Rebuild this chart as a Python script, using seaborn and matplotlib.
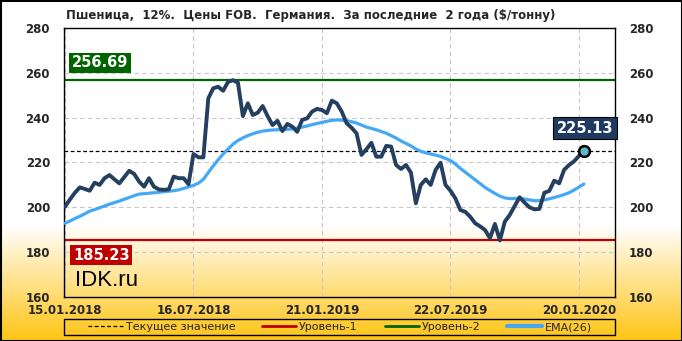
import numpy as np
import pandas as pd
import matplotlib
matplotlib.use("Agg")
import matplotlib.pyplot as plt
from matplotlib.lines import Line2D
from matplotlib.patches import Rectangle
import seaborn as sns

# ---------------- data ----------------
title = "Пшеница,  12%.  Цены FOB.  Германия.  За последние  2 года ($/тонну)"
tick_labels = ["15.01.2018", "16.07.2018", "21.01.2019", "22.07.2019", "20.01.2020"]
tick_idx = [0, 26, 52, 78, 104]
price = [200.3, 203.5, 206.5, 208.9, 208.2, 207.4, 211.0, 210.0, 213.0, 214.4,
         212.5, 210.7, 213.5, 216.3, 214.9, 211.5, 209.2, 213.0, 209.2, 208.0,
         207.8, 208.0, 213.7, 213.0, 213.0, 210.3, 223.8, 222.3, 222.3, 248.6,
         253.1, 253.8, 252.0, 256.0, 256.69, 255.6, 240.7, 246.4, 241.2, 242.2,
         245.2, 240.7, 236.7, 238.6, 234.0, 237.2, 236.0, 233.7, 239.0, 239.7,
         242.7, 243.9, 243.4, 242.0, 247.6, 246.4, 242.7, 237.5, 235.5, 233.0,
         223.4, 225.9, 228.8, 222.6, 222.6, 227.4, 227.1, 218.9, 217.1, 218.9,
         215.5, 201.8, 210.0, 212.5, 210.0, 216.7, 219.9, 210.0, 207.4, 204.0,
         198.8, 198.0, 195.8, 192.9, 191.5, 189.9, 186.2, 192.6, 185.23, 193.6,
         196.6, 200.6, 204.5, 202.1, 200.0, 199.1, 199.3, 206.5, 207.3, 211.9,
         210.7, 216.7, 218.9, 220.5, 222.9, 225.13]
ema26 = [192.9, 193.9, 195.0, 196.0, 197.1, 198.3, 199.0, 199.8, 200.6, 201.4,
         202.1, 202.8, 203.6, 204.4, 205.2, 205.9, 206.1, 206.3, 206.5, 206.7,
         207.0, 207.2, 207.4, 207.8, 208.4, 209.1, 209.8, 210.8, 212.5, 215.5,
         218.5, 221.2, 223.8, 226.0, 228.2, 229.8, 231.0, 232.0, 232.8, 233.5,
         234.0, 234.3, 234.5, 234.6, 234.7, 234.8, 235.0, 235.4, 235.8, 236.3,
         236.9, 237.4, 237.9, 238.4, 238.8, 239.0, 238.9, 238.6, 238.2, 237.6,
         236.7, 235.8, 235.2, 234.6, 233.8, 233.1, 232.0, 230.9, 229.6, 228.5,
         227.4, 226.0, 225.0, 224.3, 223.8, 223.3, 222.7, 221.8, 220.9, 219.3,
         217.4, 215.7, 214.0, 212.3, 210.6, 208.9, 207.5, 206.2, 205.0, 204.2,
         203.9, 203.9, 204.0, 203.7, 203.3, 202.9, 203.0, 203.3, 203.8, 204.4,
         205.0, 205.7, 206.5, 207.7, 209.0, 210.4]
level1 = 185.23
level2 = 256.69
current = 225.13
legend_labels = ["Текущее значение", "Уровень-1", "Уровень-2", "EMA(26)"]

# ---------------- styling ----------------
sns.set_theme(style="white")
plt.rcParams["font.family"] = ["DejaVu Sans"]

W, H = 682, 341
fig = plt.figure(figsize=(W / 100, H / 100), dpi=100)
fig.patch.set_facecolor("white")

# background gradient (white -> gold at bottom)
bg = fig.add_axes([0, 0, 1, 1], zorder=-10)
bg.axis("off")
rows = np.linspace(1, 0, H)
grad = np.ones((H, 1, 3))
gold = np.array([255, 196, 20]) / 255.0
start = 116 / H
for r, f in enumerate(rows):
    if f < start:
        t = (start - f) / start
        grad[r, 0, :] = (1 - t) * np.ones(3) + t * gold
bg.imshow(grad, aspect="auto", extent=[0, 1, 0, 1])

ax = fig.add_axes([64 / W, 1 - 297 / H, 551 / W, 269 / H], zorder=1)
ax.patch.set_alpha(0)

df = pd.DataFrame({"idx": np.arange(len(price)), "price": price, "ema": ema26})

# grid
for t in tick_idx:
    ax.axvline(t, color="#c8c8c8", lw=0.8, ls=(0, (4, 3)), zorder=0)
for yv in [180, 200, 220, 240, 260]:
    ax.axhline(yv, color="#c8c8c8", lw=0.8, ls=(0, (4, 3)), zorder=0)

ax.axhline(current, color="black", lw=0.9, ls=(0, (3, 2)), zorder=2)
ax.axhline(level1, color="#c00000", lw=1.6, zorder=2)
ax.axhline(level2, color="#006400", lw=1.6, zorder=2)

sns.lineplot(data=df, x="idx", y="ema", ax=ax, color="#45a8f5", lw=2.3, zorder=3)
sns.lineplot(data=df, x="idx", y="price", ax=ax, color="#243f60", lw=2.8, zorder=4)
ax.scatter([df["idx"].iloc[-1]], [price[-1]], s=60, color="#5fb8c9",
           edgecolor="black", linewidth=1.8, zorder=5)

ax.set_xlim(-0.2, 111.3)
ax.set_ylim(160, 280)
ax.set_xlabel("")
ax.set_ylabel("")
ax.set_xticks(tick_idx)
ax.set_xticklabels(tick_labels, fontsize=8.5, fontweight="bold")
ax.set_yticks(range(160, 281, 20))
ax.set_yticklabels([str(v) for v in range(160, 281, 20)], fontsize=8.5, fontweight="bold")
ax.tick_params(axis="y", left=False, right=False, length=0, labelleft=True,
               labelright=True, pad=10)
ax.tick_params(axis="x", bottom=False, length=0, pad=5)
for s in ax.spines.values():
    s.set_visible(True)
    s.set_color("black")
    s.set_linewidth(1.0)

# value boxes
ax.text(0.014, 0.87, "256.69", transform=ax.transAxes, ha="left", va="center",
        color="white", fontsize=10.5, fontweight="bold", zorder=6,
        bbox=dict(boxstyle="square,pad=0.2", fc="#006400", ec="none"))
ax.text(0.016, 0.156, "185.23", transform=ax.transAxes, ha="left", va="center",
        color="white", fontsize=10.5, fontweight="bold", zorder=6,
        bbox=dict(boxstyle="square,pad=0.2", fc="#c00000", ec="none"))
ax.text(0.9456, 0.628, "225.13", transform=ax.transAxes, ha="center", va="center",
        color="white", fontsize=10.5, fontweight="bold", zorder=6,
        bbox=dict(boxstyle="square,pad=0.25", fc="#1f3a5f", ec="black", lw=0.8))
ax.text(0.02, 0.06, "IDK.ru", transform=ax.transAxes, ha="left", va="center",
        color="black", fontsize=16, family="Liberation Sans", zorder=6)

fig.text(66 / W, 1 - 15 / H, title, ha="left", va="center", fontsize=8.5,
         fontweight="bold")

handles = [
    Line2D([], [], color="black", lw=0.9, ls=(0, (3, 2))),
    Line2D([], [], color="#c00000", lw=2),
    Line2D([], [], color="#006400", lw=2),
    Line2D([], [], color="#45a8f5", lw=3),
]
leg = fig.legend(handles, legend_labels, ncol=4, loc="center",
                 bbox_to_anchor=(340 / W, 1 - 327 / H),
                 frameon=False, fontsize=8, handlelength=3.1,
                 handletextpad=0.25, borderpad=0.1, columnspacing=2.4)
fig.patches.append(Rectangle((64 / W, 1 - 335 / H), 551 / W, 16 / H,
                             transform=fig.transFigure, fill=False,
                             ec="black", lw=1.0))

fig.patches.append(Rectangle((0.5 / W, 0.5 / H), 1 - 1 / W, 1 - 1 / H,
                             transform=fig.transFigure, fill=False,
                             ec="black", lw=1.5))

fig.savefig("out.png", dpi=100)
